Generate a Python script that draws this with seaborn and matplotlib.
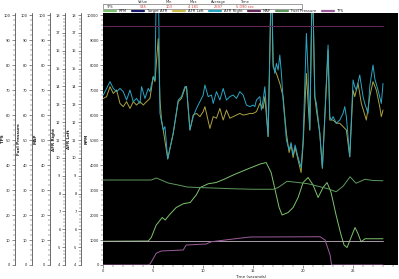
import numpy as np
import pandas as pd
import matplotlib
matplotlib.use("Agg")
import matplotlib.pyplot as plt
from matplotlib.ticker import MultipleLocator, AutoMinorLocator
import seaborn as sns

sns.set_theme(style="white")
plt.rcParams['font.family'] = ['DejaVu Sans']

# ---------------- data ----------------
afr_right_t = [0, 0.67, 1.0, 1.33, 1.67, 2.0, 2.33, 2.67, 3.0, 3.33, 3.67, 3.83, 4.17, 4.5, 4.67, 5.0, 5.17, 5.33, 5.5,
               5.67, 6.0, 6.17, 6.45, 7.0, 7.5, 7.83, 8.17, 8.33, 8.67, 9.0, 9.33, 10.0, 10.17, 10.5, 10.83, 11.0, 11.33,
               11.67, 12.0, 12.33, 12.67, 13.0, 13.33, 13.67, 14.0, 14.33, 14.67, 15.0, 15.17, 15.33, 15.67, 15.83, 16.0,
               16.17, 16.33, 16.5, 16.83, 17.0, 17.17, 17.33, 17.5, 17.67, 17.83, 18.0, 18.17, 18.33, 18.6, 18.8, 19.0,
               19.2, 19.5, 19.8, 20.0, 20.33, 20.5, 20.67, 20.93, 21.17, 21.33, 21.67, 21.93, 22.5, 22.67, 22.83, 23.0,
               23.33, 23.67, 24.0, 24.17, 24.33, 24.67, 25.0, 25.17, 25.33, 25.67, 26.0, 26.17, 26.5, 26.67, 27.0, 27.17,
               27.5, 27.83, 28.0]
afr_right = [13.52, 14.27, 13.89, 13.71, 13.89, 13.71, 13.24, 13.80, 13.15, 13.33, 13.05, 13.99, 13.33, 13.89, 13.71,
             14.55, 14.36, 20.5, 20.5, 12.49, 11.56, 11.75, 9.94, 11.38, 13.24, 13.43, 13.99, 13.99, 11.56, 12.31, 12.77,
             13.52, 14.08, 13.43, 13.52, 13.05, 13.71, 13.24, 13.89, 13.24, 13.43, 13.52, 13.33, 13.71, 13.52, 12.96,
             12.87, 12.96, 12.87, 13.24, 13.43, 12.68, 13.24, 13.99, 12.68, 11.19, 20.5, 15.29, 14.73, 15.29, 14.92,
             15.76, 14.73, 13.24, 12.12, 11.0, 10.44, 10.86, 10.16, 10.72, 10.02, 9.46, 11.0, 16.97, 14.73, 11.56, 20.5,
             13.43, 13.05, 11.38, 9.42, 16.32, 12.31, 12.12, 12.31, 11.94, 12.12, 12.49, 12.87, 12.31, 10.06, 14.36,
             13.99, 13.80, 14.64, 13.43, 13.05, 12.49, 13.99, 15.2, 14.45, 13.80, 13.05, 14.17]

afr_left_t = [0, 0.33, 0.67, 1.0, 1.33, 1.67, 2.0, 2.33, 2.67, 3.0, 3.33, 3.67, 4.0, 4.33, 4.67, 5.0, 5.17, 5.5, 5.67,
              5.83, 6.0, 6.45, 7.0, 7.5, 7.83, 8.17, 8.33, 8.67, 9.0, 9.33, 9.67, 10.0, 10.17, 10.33, 10.67, 11.0, 11.33,
              11.67, 12.0, 12.33, 12.67, 13.0, 13.33, 13.67, 14.0, 14.33, 14.67, 15.0, 15.33, 15.67, 16.0, 16.17, 16.33,
              16.5, 16.83, 17.0, 17.33, 17.67, 18.0, 18.17, 18.33, 18.6, 18.8, 19.0, 19.2, 19.5, 19.8, 20.0, 20.33, 20.5,
              20.67, 20.93, 21.17, 21.33, 21.67, 21.93, 22.5, 22.67, 23.0, 23.33, 23.67, 24.0, 24.33, 24.67, 25.0, 25.17,
              25.5, 25.83, 26.33, 26.67, 27.0, 27.33, 27.67, 27.83, 28.0]
afr_left = [13.33, 13.43, 13.99, 13.61, 13.80, 13.05, 12.87, 13.15, 12.77, 13.15, 12.96, 13.15, 12.96, 13.15, 13.33,
            14.55, 14.27, 16.69, 13.24, 12.12, 11.56, 9.94, 11.38, 13.15, 13.33, 13.89, 13.99, 11.56, 12.40, 12.49,
            12.31, 12.59, 12.87, 12.49, 11.65, 12.31, 12.22, 12.77, 12.12, 12.68, 12.22, 12.31, 12.40, 12.49, 12.40,
            12.43, 12.49, 12.49, 12.59, 13.05, 12.77, 13.43, 12.31, 11.19, 20.5, 15.11, 14.73, 14.17, 13.43, 12.31,
            11.38, 10.3, 10.72, 10.02, 10.58, 9.88, 9.18, 10.72, 14.73, 13.05, 11.56, 20.5, 13.43, 12.68, 11.38, 9.42,
            16.04, 12.12, 12.12, 11.94, 11.94, 11.75, 11.56, 10.06, 13.80, 13.43, 14.17, 13.05, 12.12, 13.43, 14.27,
            13.80, 12.87, 12.31, 12.68]

rpm_t = [0, 4.5, 4.8, 5.3, 5.9, 6.2, 6.6, 7.3, 8.0, 8.7, 9.3, 9.7, 10.5, 11.3, 12.2, 13.0, 14.5, 15.7, 16.3, 16.8,
         17.2, 17.6, 17.9, 18.5, 19.0, 19.5, 20.0, 20.5, 21.0, 21.5, 22.0, 22.4, 22.8, 23.3, 23.8, 24.1, 24.4, 24.8,
         25.2, 25.5, 25.8, 26.2, 27.0, 28.0]
rpm = [950, 960, 1100, 1600, 1900, 1800, 2000, 2300, 2450, 2500, 2800, 3100, 3250, 3300, 3450, 3600, 3850, 4040,
       4100, 3700, 3000, 2300, 2000, 2100, 2300, 2700, 3300, 3500, 3200, 2700, 3100, 3300, 2900, 2000, 1200, 800, 700,
       1100, 1500, 1250, 930, 1050, 1050, 1050]

fuel_t = [0, 4.8, 5.3, 5.8, 6.5, 7.5, 8.4, 9.5, 11.0, 13.0, 15.0, 17.0, 17.5, 18.4, 19.5, 20.5, 21.5, 22.5, 23.3,
          24.0, 24.7, 25.3, 26.2, 27.0, 28.0]
fuel = [34.0, 34.0, 34.8, 34.0, 32.8, 32.0, 31.2, 31.0, 30.8, 30.5, 30.3, 30.3, 31.0, 33.5, 33.0, 32.5, 31.5, 30.5,
        29.3, 31.5, 35.3, 32.7, 34.3, 33.8, 33.7]

map_t = [0, 28.0]
map_kpa = [95.6, 95.6]

ref_t = [0, 28.0]
ref_v = [9.6, 9.6]

tps_t = [0, 4.5, 4.7, 5.3, 5.8, 8.0, 8.3, 10.3, 10.8, 13.0, 14.7, 21.7, 22.2, 22.7, 22.85, 28.0]
tps = [0, 0, 0.5, 4.7, 5.6, 6.0, 8.0, 8.4, 9.3, 10.4, 11.2, 11.3, 10.0, 4.0, 0, 0]

# header values
stat_headers = ["Value", "Min", "Max", "Average", "Time"]
stat_values = ["545", "103", "4 181", "2697", "5.090 sec"]

# ---------------- figure ----------------
W, H = 399, 279
fig = plt.figure(figsize=(W / 100, H / 100), dpi=100)
fig.patch.set_facecolor('white')

L, R, T, B = 103.3, 398, 13.3, 265
ax = fig.add_axes([L / W, (H - B) / H, (R - L) / W, (B - T) / H])
ax.set_facecolor('black')
top = 10070 / 10000.0

C_RPM = '#7cc46c'
C_TGT = '#1c1c6e'
C_AFRL = '#cbbd4a'
C_AFRR = '#2aa6c4'
C_MAP = '#6a2a5c'
C_FUEL = '#5e9a5e'
C_TPS = '#9c5c9c'
C_REF = '#c4b4c4'

TICK_FS = 2.6
LAB_FS = 3.0
YMID = 0.5


def px2ax(px):
    return (px - L) / (R - L)


def style_axis(a, spine_px, lo, hi, major, label, label_px):
    a.set_ylim(lo, lo + (hi - lo) * top)
    a.yaxis.set_major_locator(MultipleLocator(major))
    a.yaxis.set_minor_locator(AutoMinorLocator(5))
    a.yaxis.set_ticks_position('left')
    a.yaxis.set_label_position('left')
    for s in ['top', 'right', 'bottom']:
        a.spines[s].set_visible(False)
    a.spines['left'].set_visible(True)
    a.spines['left'].set_position(('axes', px2ax(spine_px)))
    a.spines['left'].set_color('#333333')
    a.spines['left'].set_linewidth(0.5)
    a.tick_params(axis='y', which='major', length=2.2, width=0.4, color='#333333',
                  labelsize=TICK_FS, pad=1, labelcolor='#222222')
    a.tick_params(axis='y', which='minor', length=1.2, width=0.3, color='#333333')
    a.set_ylabel(label, fontsize=LAB_FS, color='#222222', fontweight='bold')
    a.yaxis.set_label_coords(px2ax(label_px), YMID)
    a.yaxis.set_major_formatter(matplotlib.ticker.FuncFormatter(lambda v, p: f"{v:g}"))


ax_afrl = ax.twinx()
ax_afrr = ax.twinx()
ax_map = ax.twinx()
ax_fuel = ax.twinx()
ax_tps = ax.twinx()

style_axis(ax_afrl, 81, 4, 18, 1, 'AFR Left', 71.5)
style_axis(ax_afrr, 65, 4, 18, 1, 'AFR Right', 55.5)
style_axis(ax_map, 50, 0, 100, 10, 'MAP', 37.5)
style_axis(ax_fuel, 32, 0, 100, 10, 'Fuel Pressure', 20.5)
style_axis(ax_tps, 15, 0, 100, 10, 'TPS', 4.6)

# main axis
ax.set_xlim(0, 29.5)
ax.set_ylim(0, 10000 * top)
ax.yaxis.set_major_locator(MultipleLocator(1000))
ax.yaxis.set_minor_locator(AutoMinorLocator(5))
ax.xaxis.set_major_locator(MultipleLocator(5))
ax.xaxis.set_minor_locator(AutoMinorLocator(5))
for s in ax.spines.values():
    s.set_visible(False)
ax.tick_params(axis='y', which='major', left=True, length=2.2, width=0.4, color='#333333',
               labelsize=TICK_FS, pad=1, labelcolor='#222222')
ax.tick_params(axis='y', which='minor', left=True, length=1.2, width=0.3, color='#333333')
ax.tick_params(axis='x', which='major', bottom=True, length=2.2, width=0.4, color='#333333',
               labelsize=TICK_FS, pad=1, labelcolor='#222222')
ax.tick_params(axis='x', which='minor', bottom=True, length=1.2, width=0.3, color='#333333')
ax.set_ylabel('RPM', fontsize=LAB_FS, color='#222222', fontweight='bold')
ax.yaxis.set_label_coords(px2ax(89), YMID)
ax.set_xlabel('Time (seconds)', fontsize=LAB_FS, labelpad=1, color='#222222')
ax.yaxis.set_major_formatter(matplotlib.ticker.FuncFormatter(lambda v, p: f"{v:g}"))

lw = 0.7
sns.lineplot(x=ref_t, y=ref_v, ax=ax_tps, color=C_REF, lw=0.6)
sns.lineplot(x=map_t, y=map_kpa, ax=ax_map, color=C_MAP, lw=0.7, label='MAP', legend=False)
sns.lineplot(x=tps_t, y=tps, ax=ax_tps, color=C_TPS, lw=0.7, label='TPS', legend=False)
sns.lineplot(x=fuel_t, y=fuel, ax=ax_fuel, color=C_FUEL, lw=0.7, label='Fuel Pressure', legend=False)
sns.lineplot(x=rpm_t, y=rpm, ax=ax, color=C_RPM, lw=0.7, label='RPM', legend=False)
sns.lineplot(x=afr_right_t, y=afr_right, ax=ax_afrr, color=C_AFRR, lw=lw, label='AFR Right', legend=False)
sns.lineplot(x=afr_left_t, y=afr_left, ax=ax_afrl, color=C_AFRL, lw=lw, alpha=0.85, label='AFR Left', legend=False)

for a in [ax_afrl, ax_afrr, ax_map, ax_fuel, ax_tps]:
    a.set_xlim(0, 29.5)

# legend
from matplotlib.lines import Line2D
names = ['RPM', 'Target AFR', 'AFR Left', 'AFR Right', 'MAP', 'Fuel Pressure', 'TPS']
cols = [C_RPM, C_TGT, C_AFRL, C_AFRR, C_MAP, C_FUEL, C_TPS]
handles = [Line2D([], [], color=c, lw=1.6) for c in cols]
leg = fig.legend(handles, names, loc='center left', bbox_to_anchor=(104 / W, 1 - 11.3 / H), ncol=7,
                 frameon=False, fontsize=2.7, handlelength=3.2, handletextpad=0.8, columnspacing=1.4,
                 borderaxespad=0, borderpad=0)

# header table
hx = [143, 169, 193, 218, 245]
for x, h in zip(hx, stat_headers):
    fig.text(x / W, 1 - 2.2 / H, h, fontsize=2.6, ha='center', va='center', color='#333333')
box = plt.Rectangle((103 / W, 1 - 9 / H), (302 - 103) / W, 5 / H, transform=fig.transFigure,
                    fill=False, ec='#555555', lw=0.4)
fig.add_artist(box)
fig.text(106 / W, 1 - 6.5 / H, 'TPS', fontsize=2.6, ha='left', va='center', color='#333333')
for x, v in zip(hx, stat_values):
    fig.text(x / W, 1 - 6.5 / H, v, fontsize=2.6, ha='center', va='center', color='#d04040')

fig.savefig('out.png', dpi=100, facecolor='white')
